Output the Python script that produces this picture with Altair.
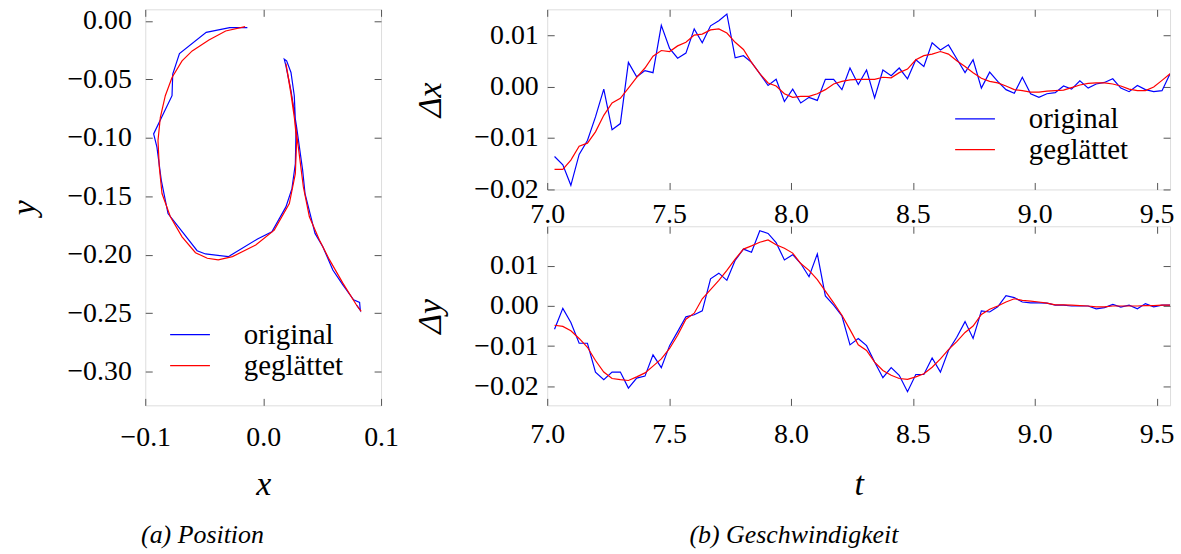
import altair as alt
import pandas as pd

FONT = "Liberation Serif"
SERIES = ["original", "geglättet"]
COLORS = ["blue", "red"]

# ---------------- Position (a) ----------------
pos_x_orig = [-0.0134, -0.0284, -0.0483, -0.0710, -0.0767, -0.0773, -0.0929, -0.0901, -0.0864, -0.0807,
              -0.0560, -0.0489, -0.0295, -0.0048, 0.0074, 0.0193, 0.0244, 0.0273, 0.0278, 0.0264,
              0.0236, 0.0199, 0.0179, 0.0193, 0.0236, 0.0284, 0.0335, 0.0355, 0.0440, 0.0506,
              0.0591, 0.0676, 0.0767, 0.0818, 0.0824, 0.0790]
pos_y_orig = [-0.0057, -0.0057, -0.0097, -0.0278, -0.0455, -0.0639, -0.0966, -0.1080, -0.1364, -0.1648,
              -0.1966, -0.1994, -0.2017, -0.1866, -0.1804, -0.1591, -0.1435, -0.1222, -0.0966, -0.0639,
              -0.0440, -0.0341, -0.0327, -0.0384, -0.0597, -0.0909, -0.1278, -0.1477, -0.1818, -0.1932,
              -0.2131, -0.2259, -0.2386, -0.2409, -0.2477, -0.2429]
pos_x_smooth = [-0.0153, -0.0318, -0.0460, -0.0602, -0.0688, -0.0773, -0.0830, -0.0872, -0.0892, -0.0881,
                -0.0858, -0.0787, -0.0688, -0.0574, -0.0474, -0.0381, -0.0261, -0.0063, 0.0094, 0.0222,
                0.0273, 0.0284, 0.0256, 0.0222, 0.0193, 0.0236, 0.0284, 0.0341, 0.0392, 0.0477,
                0.0563, 0.0676, 0.0790, 0.0832]
pos_y_smooth = [-0.0048, -0.0085, -0.0162, -0.0256, -0.0341, -0.0483, -0.0639, -0.0824, -0.1023, -0.1250,
                -0.1477, -0.1676, -0.1847, -0.1983, -0.2031, -0.2045, -0.2017, -0.1918, -0.1790, -0.1563,
                -0.1307, -0.1023, -0.0739, -0.0526, -0.0364, -0.0625, -0.0966, -0.1420, -0.1676, -0.1875,
                -0.2045, -0.2244, -0.2429, -0.2486]

# ---------------- Geschwindigkeit (b) ----------------
t = [7.030, 7.064, 7.097, 7.131, 7.165, 7.198, 7.232, 7.266, 7.300, 7.333,
     7.367, 7.401, 7.434, 7.468, 7.502, 7.535, 7.569, 7.603, 7.636, 7.670,
     7.704, 7.737, 7.771, 7.805, 7.838, 7.872, 7.906, 7.939, 7.973, 8.007,
     8.040, 8.074, 8.108, 8.141, 8.175, 8.209, 8.242, 8.276, 8.310, 8.343,
     8.377, 8.411, 8.444, 8.478, 8.512, 8.545, 8.579, 8.613, 8.646, 8.680,
     8.714, 8.747, 8.781, 8.815, 8.848, 8.882, 8.916, 8.949, 8.983, 9.017,
     9.050, 9.084, 9.118, 9.151, 9.185, 9.219, 9.252, 9.286, 9.320, 9.353,
     9.387, 9.421, 9.454, 9.488, 9.522, 9.555]
dx_orig = [-0.0136, -0.0152, -0.0192, -0.0132, -0.0105, -0.0059, -0.0005, -0.0084, -0.0072, 0.0047,
           0.0019, 0.0031, 0.0027, 0.0119, 0.0074, 0.0055, 0.0065, 0.0112, 0.0085, 0.0118,
           0.0128, 0.0141, 0.0056, 0.0060, 0.0047, 0.0025, 0.0002, 0.0014, -0.0029, -0.0005,
           -0.0032, -0.0021, -0.0027, 0.0014, 0.0014, -0.0006, 0.0036, 0.0004, 0.0032, -0.0022,
           0.0032, 0.0021, 0.0036, 0.0015, 0.0052, 0.0039, 0.0085, 0.0071, 0.0081, 0.0054,
           0.0027, 0.0052, -0.0003, 0.0028, 0.0010, -0.0006, -0.0013, 0.0018, -0.0014, -0.0021,
           -0.0014, -0.0012, 0.0001, -0.0005, 0.0011, -0.0003, 0.0005, 0.0008, 0.0015, -0.0003,
           -0.0010, 0.0002, -0.0006, -0.0010, -0.0008, 0.0025]
dx_smooth = [-0.0161, -0.0161, -0.0143, -0.0116, -0.0110, -0.0088, -0.0056, -0.0032, -0.0023, -0.0003,
             0.0018, 0.0036, 0.0059, 0.0070, 0.0068, 0.0079, 0.0086, 0.0100, 0.0102, 0.0110,
             0.0112, 0.0104, 0.0086, 0.0072, 0.0047, 0.0025, 0.0007, 0.0001, -0.0014, -0.0021,
             -0.0019, -0.0019, -0.0014, -0.0006, 0.0005, 0.0010, 0.0013, 0.0014, 0.0014, 0.0014,
             0.0018, 0.0017, 0.0027, 0.0034, 0.0052, 0.0060, 0.0063, 0.0068, 0.0063, 0.0050,
             0.0039, 0.0027, 0.0016, 0.0010, 0.0007, 0.0001, -0.0006, -0.0008, -0.0011, -0.0011,
             -0.0009, -0.0008, -0.0007, -0.0002, 0.0003, 0.0006, 0.0007, 0.0007, 0.0005, 0.0001,
             -0.0005, -0.0008, -0.0008, -0.0001, 0.0012, 0.0025]
dy_orig = [-0.0058, -0.0006, -0.0041, -0.0093, -0.0093, -0.0165, -0.0184, -0.0165, -0.0165, -0.0205,
           -0.0180, -0.0175, -0.0122, -0.0154, -0.0099, -0.0064, -0.0027, -0.0022, -0.0012, 0.0068,
           0.0082, 0.0064, 0.0114, 0.0142, 0.0134, 0.0188, 0.0181, 0.0158, 0.0115, 0.0128,
           0.0106, 0.0073, 0.0130, 0.0025, 0.0002, -0.0025, -0.0097, -0.0081, -0.0099, -0.0140,
           -0.0179, -0.0154, -0.0173, -0.0214, -0.0171, -0.0171, -0.0130, -0.0165, -0.0111, -0.0078,
           -0.0039, -0.0081, -0.0012, -0.0015, -0.0002, 0.0026, 0.0021, 0.0010, 0.0008, 0.0008,
           0.0007, 0.0002, 0.0002, 0.0000, 0.0000, 0.0000, -0.0007, -0.0004, 0.0004, -0.0003,
           0.0002, -0.0007, 0.0006, -0.0002, 0.0002, 0.0002]
dy_smooth = [-0.0048, -0.0051, -0.0062, -0.0081, -0.0103, -0.0136, -0.0165, -0.0181, -0.0184, -0.0186,
             -0.0177, -0.0167, -0.0150, -0.0132, -0.0106, -0.0073, -0.0033, -0.0018, 0.0018, 0.0041,
             0.0064, 0.0089, 0.0117, 0.0142, 0.0150, 0.0159, 0.0165, 0.0153, 0.0144, 0.0132,
             0.0106, 0.0089, 0.0066, 0.0037, 0.0008, -0.0023, -0.0059, -0.0097, -0.0111, -0.0140,
             -0.0161, -0.0173, -0.0181, -0.0183, -0.0177, -0.0169, -0.0153, -0.0132, -0.0109, -0.0089,
             -0.0066, -0.0050, -0.0021, -0.0008, 0.0000, 0.0010, 0.0018, 0.0014, 0.0012, 0.0010,
             0.0007, 0.0003, 0.0003, 0.0002, 0.0001, 0.0000, -0.0002, -0.0002, 0.0000, 0.0000,
             0.0000, 0.0000, 0.0001, 0.0001, 0.0002, 0.0002]

pos_ticks_x = [-0.1, 0.0, 0.1]
pos_ticks_y = [0.0, -0.05, -0.10, -0.15, -0.20, -0.25, -0.30]
t_ticks = [7.0, 7.5, 8.0, 8.5, 9.0, 9.5]
dx_ticks = [-0.02, -0.01, 0.0, 0.01]
dy_ticks = [-0.02, -0.01, 0.0, 0.01]

# ---------------- tables ----------------
df_pos = pd.concat([
    pd.DataFrame({"idx": range(len(pos_x_orig)), "px": pos_x_orig, "py": pos_y_orig, "series": "original"}),
    pd.DataFrame({"idx": range(len(pos_x_smooth)), "px": pos_x_smooth, "py": pos_y_smooth, "series": "geglättet"}),
], ignore_index=True)
df_vel = pd.concat([
    pd.DataFrame({"t": t, "dx": dx_orig, "dy": dy_orig, "series": "original"}),
    pd.DataFrame({"t": t, "dx": dx_smooth, "dy": dy_smooth, "series": "geglättet"}),
], ignore_index=True)

TICK = 7
LABEL_SIZE = 28
TITLE_SIZE = 34


def axis_main(orient, values, fmt, pad, title=None, title_pos=None):
    kw = dict(orient=orient, values=values, format=fmt, offset=-TICK, tickSize=TICK,
              tickColor="#555555", tickWidth=1, domain=False, grid=False,
              labelFont=FONT, labelFontSize=LABEL_SIZE, labelColor="black",
              labelPadding=pad, labelFlush=False, labelOverlap=False)
    if title:
        kw.update(title=title, titleFont=FONT, titleFontSize=TITLE_SIZE, titleFontStyle="italic",
                  titleFontWeight="normal", titleColor="black", titleBaseline="middle")
        if orient == "left":
            kw.update(titleX=title_pos, titleAngle=-90)
        else:
            kw.update(titleY=title_pos)
    else:
        kw.update(title=None)
    return alt.Axis(**kw)


def axis_mirror(orient, values):
    return alt.Axis(orient=orient, values=values, offset=-TICK, tickSize=TICK, tickColor="#555555",
                    tickWidth=1, domain=False, grid=False, labels=False, title=None)


def panel(df, xf, yf, xdom, ydom, xvals, yvals, xfmt, yfmt, xpad, ypad,
          xtitle, xtitle_pos, ytitle, ytitle_pos, w, h, legend, ordered):
    xs = alt.Scale(domain=xdom, nice=False, zero=False)
    ys = alt.Scale(domain=ydom, nice=False, zero=False)
    if legend is None:
        col = alt.Color("series:N", scale=alt.Scale(domain=SERIES, range=COLORS), legend=None)
    else:
        col = alt.Color("series:N", scale=alt.Scale(domain=SERIES, range=COLORS),
                        legend=alt.Legend(orient="none", legendX=legend[0], legendY=legend[1],
                                          title=None, symbolType="stroke", symbolSize=1600,
                                          symbolStrokeWidth=1.2, clipHeight=29, rowPadding=1,
                                          padding=0, labelOffset=33, labelFont=FONT,
                                          labelFontSize=29, labelColor="black"))
    base = alt.Chart(df)
    enc = dict(x=alt.X(f"{xf}:Q", scale=xs, axis=None), y=alt.Y(f"{yf}:Q", scale=ys, axis=None), color=col)
    if ordered:
        enc["order"] = alt.Order("idx:Q")
    layers = []
    for s in SERIES:
        layers.append(base.transform_filter(alt.datum.series == s)
                      .mark_line(strokeWidth=1.2, clip=True).encode(**enc))
    lines = alt.layer(*layers)
    ax_lb = base.mark_point(opacity=0).encode(
        x=alt.X(f"{xf}:Q", scale=xs, axis=axis_main("bottom", xvals, xfmt, xpad, xtitle, xtitle_pos)),
        y=alt.Y(f"{yf}:Q", scale=ys, axis=axis_main("left", yvals, yfmt, ypad, ytitle, ytitle_pos)),
    )
    ax_tr = base.mark_point(opacity=0).encode(
        x=alt.X(f"{xf}:Q", scale=xs, axis=axis_mirror("top", xvals)),
        y=alt.Y(f"{yf}:Q", scale=ys, axis=axis_mirror("right", yvals)),
    )
    return alt.layer(lines, ax_lb, ax_tr).resolve_axis(
        x="independent", y="independent").properties(width=w, height=h)


def caption_title(text, dx):
    return alt.TitleParams(text, orient="bottom", anchor="middle", font=FONT, fontSize=26,
                           fontStyle="italic", fontWeight="normal", color="black", dx=dx,
                           offset=20, baseline="top")


left = panel(df_pos, "px", "py", [-0.1, 0.1], [-0.329, 0.010], pos_ticks_x, pos_ticks_y, ".1f", ".2f",
             18, 14, "x", 87, "y", -128, 237, 398, (24, 312.5), True).properties(
    title=caption_title("(a) Position", -61))
top = panel(df_vel, "t", "dx", [7.0, 9.555], [-0.02, 0.015], t_ticks, dx_ticks, ".1f", ".2f",
            11, 9, None, None, "Δx", -124, 626, 181, (409, 95.5), False)
bottom = panel(df_vel, "t", "dy", [7.0, 9.555], [-0.0248, 0.0199], t_ticks, dy_ticks, ".1f", ".2f",
               15, 9, "t", 87, "Δy", -124, 626, 180, None, False).properties(
    title=caption_title("(b) Geschwindigkeit", -65))

right = alt.vconcat(top, bottom, spacing=37, bounds="flush").resolve_scale(color="independent")
chart = alt.hconcat(left, right, spacing=167, bounds="flush").resolve_scale(
    color="independent").properties(
    padding={"left": 7, "top": 5, "right": 6, "bottom": 4}
).configure_view(stroke="black", strokeWidth=1.3).configure(background="white")

chart.save("out.html", embed_options={"renderer": "svg", "actions": False})
